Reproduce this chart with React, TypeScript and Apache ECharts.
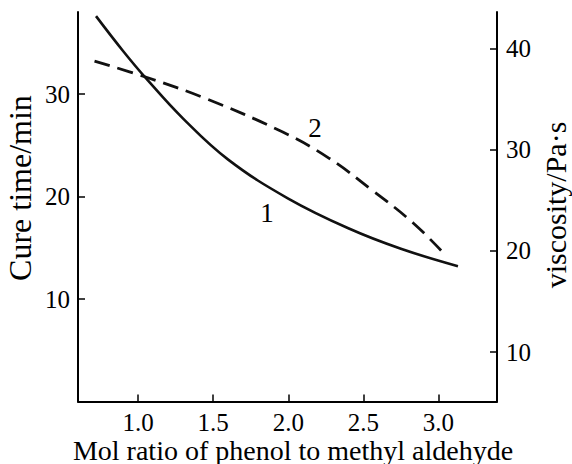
import React, { useEffect, useRef } from "react";
import * as echarts from "echarts";

const xTicks = [1.0, 1.5, 2.0, 2.5, 3.0];
const cureTicks = [10, 20, 30];
const viscTicks = [10, 20, 30, 40];

// curve 1: cure time (min) vs mol ratio
const cureX = [0.72, 0.9, 1.055, 1.3, 1.6, 2.0, 2.4, 2.75, 3.13];
const cureY = [37.6, 34.2, 31.5, 27.6, 23.6, 19.8, 16.9, 14.9, 13.2];
// curve 2: viscosity (Pa·s) vs mol ratio
const viscX = [0.71, 1.055, 1.45, 1.96, 2.27, 2.56, 2.83, 3.04];
const viscY = [38.8, 37.2, 35.1, 31.8, 29.2, 26.0, 22.8, 19.7];

const FONT = '"Liberation Serif", "Times New Roman", serif';

export default function App() {
  const ref = useRef<HTMLDivElement>(null);
  useEffect(() => {
    if (!ref.current) return;
    const chart = echarts.init(ref.current, null, { renderer: "svg" });
    const axisLine = { show: true, onZero: false, lineStyle: { color: "#000", width: 2 } };
    const tickStyle = { color: "#000", width: 1.5 };
    const labelBase = { color: "#000", fontSize: 25, lineHeight: 25, fontFamily: FONT };
    chart.setOption({
      animation: false,
      backgroundColor: "#fff",
      grid: { left: 78, right: 75, top: 12, bottom: 62.5, containLabel: false },
      xAxis: {
        type: "value",
        min: 0.6,
        max: 3.39,
        axisLine,
        axisTick: { show: true, inside: true, length: 7, customValues: xTicks, lineStyle: tickStyle },
        axisLabel: { ...labelBase, customValues: xTicks, margin: 8, formatter: (v: number) => v.toFixed(1) },
        splitLine: { show: false },
      },
      yAxis: [
        {
          type: "value",
          position: "left",
          min: 0,
          max: 38,
          axisLine,
          axisTick: { show: true, inside: true, length: 7, customValues: cureTicks, lineStyle: tickStyle },
          axisLabel: { ...labelBase, customValues: cureTicks, margin: 8 },
          splitLine: { show: false },
        },
        {
          type: "value",
          position: "right",
          min: 5.1,
          max: 43.66,
          axisLine,
          axisTick: { show: true, inside: true, length: 7, customValues: viscTicks, lineStyle: tickStyle },
          axisLabel: { ...labelBase, customValues: viscTicks, margin: 9 },
          splitLine: { show: false },
        },
      ],
      series: [
        {
          type: "line",
          yAxisIndex: 0,
          data: cureX.map((x, i) => [x, cureY[i]]),
          smooth: 0.4,
          showSymbol: false,
          lineStyle: { color: "#111", width: 2.6 },
        },
        {
          type: "line",
          yAxisIndex: 1,
          data: viscX.map((x, i) => [x, viscY[i]]),
          smooth: 0.4,
          showSymbol: false,
          lineStyle: { color: "#111", width: 2.8, type: [16, 8] },
        },
      ],
      graphic: [
        {
          type: "text",
          x: 293,
          y: 450,
          style: {
            text: "Mol ratio of phenol to methyl aldehyde",
            fill: "#000",
            font: `28px ${FONT}`,
            textAlign: "center",
            textVerticalAlign: "middle",
          },
        },
        {
          type: "text",
          x: 20,
          y: 188,
          rotation: Math.PI / 2,
          style: {
            text: "Cure time/min",
            fill: "#000",
            font: `32px ${FONT}`,
            textAlign: "center",
            textVerticalAlign: "middle",
          },
        },
        {
          type: "text",
          x: 555,
          y: 205,
          rotation: Math.PI / 2,
          style: {
            text: "viscosity/Pa·s",
            fill: "#000",
            font: `30px ${FONT}`,
            textAlign: "center",
            textVerticalAlign: "middle",
          },
        },
        {
          type: "text",
          x: 267,
          y: 213,
          style: { text: "1", fill: "#000", font: `27px ${FONT}`, textAlign: "center", textVerticalAlign: "middle" },
        },
        {
          type: "text",
          x: 315,
          y: 128,
          style: { text: "2", fill: "#000", font: `27px ${FONT}`, textAlign: "center", textVerticalAlign: "middle" },
        },
      ],
    });
    return () => chart.dispose();
  }, []);
  return (
    <div
      ref={ref}
      style={{ position: "fixed", left: 0, top: 0, width: 572, height: 464 }}
    />
  );
}
